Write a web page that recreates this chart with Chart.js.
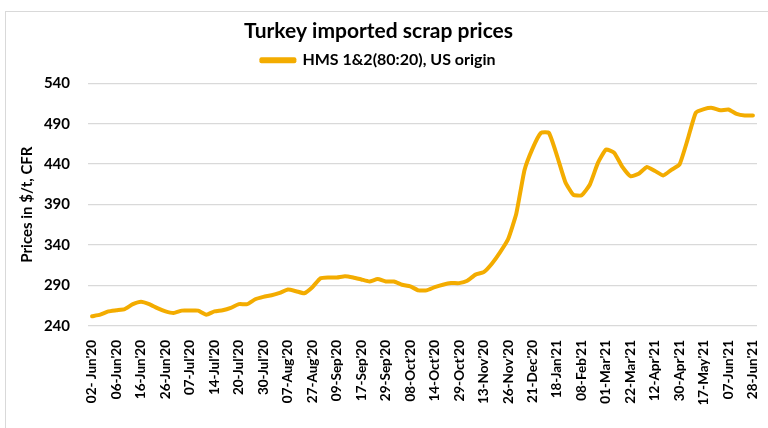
<!DOCTYPE html>
<html>
<head>
<meta charset="utf-8">
<script src="https://cdn.jsdelivr.net/npm/chart.js@4"></script>
<style>
html,body{margin:0;padding:0;background:#fff;}
#frame{position:absolute;left:5px;top:11px;width:780px;height:430px;border:1px solid #d9d9d9;box-sizing:border-box;}
#wrap{position:absolute;left:0;top:0;width:768px;height:428px;}
</style>
</head>
<body>
<div id="frame"></div>
<div id="wrap"><canvas id="c" width="768" height="428"></canvas></div>
<script>
const TITLE = "Turkey imported scrap prices";
const SERIES_NAME = "HMS 1&2(80:20), US origin";
const Y_TITLE = "Prices in $/t, CFR";

// Tick labels shown on the axis (every third observation)
const tickLabels = [
  "02- Jun'20","06-Jun'20","16-Jun'20","26-Jun'20","07-Jul'20","14-Jul'20","20-Jul'20",
  "30-Jul'20","07-Aug'20","27-Aug'20","09-Sep'20","17-Sep'20","29-Sep'20","08-Oct'20",
  "14-Oct'20","29-Oct'20","13-Nov'20","26-Nov'20","21-Dec'20","18-Jan'21","08-Feb'21",
  "01-Mar'21","22-Mar'21","12-Apr'21","30-Apr'21","17-May'21","07-Jun'21","28-Jun'21"
];
const LABEL_EVERY = 3;

const prices = [
  252,254,258,259.5,261,267,270,267,262,258,
  256,259,259,259,254,258,259.5,262.5,267,267,
  273,276,278,281,285,283,280.5,288,299,300,
  300,301.5,300,297.5,295,298,295,295,291,289,
  284,284,288,291,293,293,296,303.5,306.5,317,
  331,347.5,379,432.5,459.5,478.5,478.5,450,418,402,
  401.5,414.5,441.5,458,454,436.5,425,428,436.5,431.5,
  426,433,439.5,470.5,503.5,508,509.5,506.5,507.5,502,
  500,500
];

const yMin = 240, yMax = 540, yStep = 50;

const categories = prices.map((_, i) =>
  (i % LABEL_EVERY === 0 && tickLabels[i / LABEL_EVERY] !== undefined) ? tickLabels[i / LABEL_EVERY] : "");

const FONT = "Lato, 'Open Sans', sans-serif";
const LINE_COLOR = "#F3AC00";

const legendGap = {
  id: 'legendGap',
  beforeInit(chart) {
    const lg = chart.legend;
    if (!lg) return;
    const orig = lg.fit;
    lg.fit = function() { orig.call(this); this.height += 5; };
  }
};

new Chart(document.getElementById('c'), {
  type: 'line',
  data: {
    labels: categories,
    datasets: [{
      label: SERIES_NAME,
      data: prices,
      borderColor: LINE_COLOR,
      backgroundColor: LINE_COLOR,
      borderWidth: 4,
      pointRadius: 0,
      tension: 0.15,
      borderJoinStyle: 'round',
      borderCapStyle: 'round'
    }]
  },
  plugins: [legendGap],
  options: {
    responsive: false,
    animation: false,
    devicePixelRatio: 1,
    layout: { padding: { left: 0, right: 11, top: 0, bottom: 0 } },
    plugins: {
      title: {
        display: true,
        text: TITLE,
        color: '#000',
        font: { family: FONT, size: 21, weight: 'bold' },
        padding: { top: 19, bottom: 0 }
      },
      legend: {
        display: true,
        labels: {
          color: '#000',
          font: { family: FONT, size: 16, weight: 'bold' },
          boxWidth: 33,
          boxHeight: 2,
          padding: 8
        }
      },
      tooltip: { enabled: false }
    },
    scales: {
      x: {
        offset: true,
        grid: { display: false, drawTicks: false },
        border: { display: false },
        afterFit(scale) { scale.height = 102; scale.paddingLeft = 0; scale.paddingRight = 0; },
        ticks: {
          autoSkip: false,
          minRotation: 90,
          maxRotation: 90,
          color: '#000',
          padding: 14,
          font: { family: FONT, size: 13.5, weight: 'bold' },
          callback: function(v, i) { return categories[i]; }
        }
      },
      y: {
        min: yMin,
        max: yMax,
        afterFit(scale) { scale.width = 88; },
        ticks: {
          stepSize: yStep,
          color: '#000',
          padding: 18,
          font: { family: FONT, size: 15, weight: 'bold' }
        },
        grid: { color: '#d9d9d9', lineWidth: 1.3, drawTicks: false },
        border: { display: false },
        title: {
          display: true,
          text: Y_TITLE,
          color: '#000',
          font: { family: FONT, size: 15, weight: 'bold' },
          padding: { top: 18, bottom: 0 }
        }
      }
    }
  }
});
</script>
</body>
</html>
